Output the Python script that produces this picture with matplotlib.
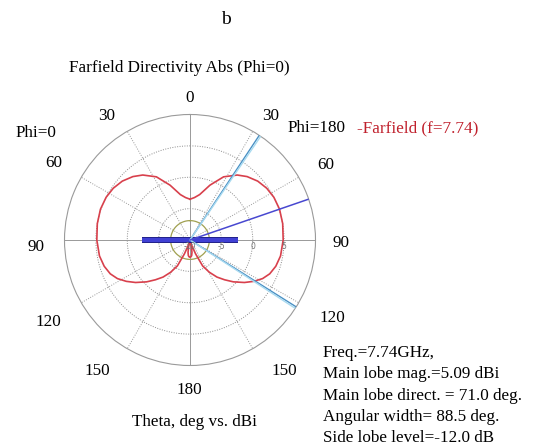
import numpy as np
import matplotlib
matplotlib.use('Agg')
import matplotlib.pyplot as plt

plt.rcParams['font.family'] = ['Liberation Serif', 'DejaVu Serif']

W, H = 534, 446

# Farfield directivity cut (Phi=0 / Phi=180), theta in deg, value in dBi
theta_deg = [0, 6, 12, 20, 28, 36, 42, 49, 56, 63, 71, 80, 90, 100, 107, 113,
             118, 123, 128, 134, 139, 144, 149, 154, 158, 162, 165, 168, 171,
             174, 177, 180]
dir_dbi = [-3.5, -3.2, -2.6, -0.7, 1.4, 2.8, 3.6, 4.3, 4.75, 5.0, 5.09, 5.0,
           4.85, 4.65, 4.3, 3.8, 3.1, 2.1, 1.0, -0.4, -1.6, -2.7, -4.0, -5.4,
           -7.6, -9.0, -9.5, -9.0, -8.0, -7.5, -7.3, -7.3]

main_lobe_dir = 71.0
main_lobe_mag = 5.09
side_lobe_level = -12.0
beam_edges = [33.5, 122.2]
bar_level = -2.3

r_min, r_max = -10, 10
ring_levels = [-5, 0, 5]
radial_labels = ['-10', '-5', '0', '5']

info_lines = ['Freq.=7.74GHz,',
              'Main lobe mag.=5.09 dBi',
              'Main lobe direct. = 71.0 deg.',
              'Angular width= 88.5 deg.',
              'Side lobe level=-12.0 dB']

# angle labels around the circle: text, x, y (pixels)
angle_labels = [('0', 190, 98), ('30', 107, 116), ('30', 271, 116),
                ('60', 54, 163), ('60', 326, 165), ('90', 36, 247),
                ('90', 341, 243), ('120', 48, 322), ('120', 332, 318),
                ('150', 97, 371), ('150', 284, 371), ('180', 189, 390)]

FS = 12.3


def px(x, y):
    return x / W, 1 - y / H


fig = plt.figure(figsize=(W / 100, H / 100), dpi=100)
cx, cy, rad = 190, 240, 125.5
ax = fig.add_axes([(cx - rad) / W, 1 - (cy + rad) / H, 2 * rad / W, 2 * rad / H],
                  projection='polar')
ax.set_theta_zero_location('N')
ax.set_theta_direction(-1)
ax.set_rlim(r_min, r_max)
ax.grid(False)
ax.set_xticks([])
ax.set_yticks([])
ax.spines['polar'].set_color('#9a9a9a')
ax.spines['polar'].set_linewidth(0.8)

# grid: dotted rings and spokes, solid main axes
tt = np.linspace(0, 2 * np.pi, 361)
for lv in ring_levels:
    ax.plot(tt, np.full_like(tt, lv), color='#8c8c8c', lw=0.7, ls=(0, (1, 1.5)))
for a in range(0, 360, 30):
    style = '-' if a % 90 == 0 else (0, (1, 1.5))
    ax.plot([np.deg2rad(a)] * 2, [r_min, r_max], color='#999999', lw=0.7, ls=style)

# side lobe level circle
sll = main_lobe_mag + side_lobe_level
ax.plot(tt, np.full_like(tt, sll), color='#a0a050', lw=0.9)

# pattern, mirrored for the opposite half-plane
th = np.deg2rad(theta_deg)
ax.plot(th, dir_dbi, color='#d8404c', lw=1.2)
ax.plot(-th, dir_dbi, color='#d8404c', lw=1.2)

# horizontal bar
for a in (90, 270):
    ax.plot([np.deg2rad(a)] * 2, [r_min, bar_level], color='#20208a', lw=4.3,
            solid_capstyle='butt', zorder=4)
    ax.plot([np.deg2rad(a)] * 2, [r_min, bar_level], color='#4040d4', lw=2.9,
            solid_capstyle='butt', zorder=5)

# beam width edges
for e in beam_edges:
    ax.plot([np.deg2rad(e)] * 2, [r_min, r_max], color='#4a90c4', lw=1.0, zorder=6)
    ax.plot([np.deg2rad(e + 0.8)] * 2, [r_min, r_max], color='#a8daf0', lw=1.0, zorder=6)

# main lobe direction
ax.plot([np.deg2rad(main_lobe_dir)] * 2, [r_min, r_max], color='#4848d0', lw=1.1, zorder=6)

# radial scale labels
for i, lab in enumerate(radial_labels):
    x = cx + i * rad / 4
    fig.text(*px(x, 246), lab, fontsize=5.5, color='#707070', ha='center',
             va='center', family='DejaVu Sans')

for lab, x, y in angle_labels:
    fig.text(*px(x, y), lab, fontsize=FS, ha='center', va='center')

fig.text(*px(226, 20), 'b', fontsize=14, ha='center', va='center')
fig.text(*px(179, 68), 'Farfield Directivity Abs (Phi=0)', fontsize=FS,
         ha='center', va='center')
fig.text(*px(36, 133), 'Phi=0', fontsize=FS, ha='center', va='center')
fig.text(*px(317, 128), 'Phi=180', fontsize=FS, ha='center', va='center')
fig.text(*px(418, 128), '-Farfield (f=7.74)', fontsize=FS, ha='center',
         va='center', color='#c0202c')
fig.text(*px(194, 422), 'Theta, deg vs. dBi', fontsize=FS, ha='center',
         va='center')
for i, line in enumerate(info_lines):
    fig.text(*px(323, 353 + i * 21.3), line, fontsize=FS, ha='left',
             va='center')

fig.savefig('out.png', dpi=100)
